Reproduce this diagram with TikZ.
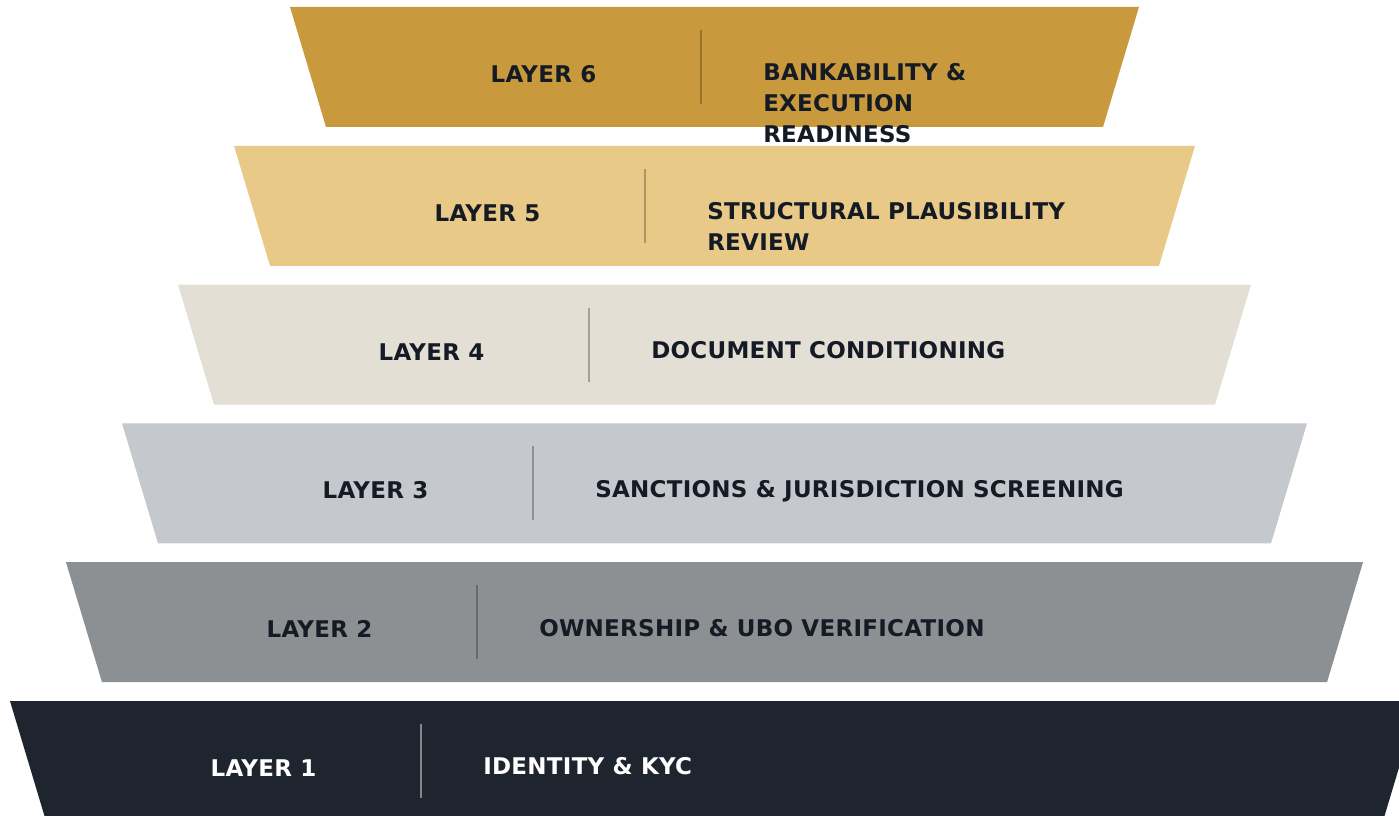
\documentclass[tikz,border=0pt]{standalone}
\usepackage{fontspec}
\setmainfont{DejaVu Sans}[LetterSpace=1.2]
\definecolor{cSix}{HTML}{C9993D}
\definecolor{cFive}{HTML}{E8C987}
\definecolor{cFour}{HTML}{E3DFD4}
\definecolor{cThree}{HTML}{C5C9CD}
\definecolor{cTwo}{HTML}{8C9093}
\definecolor{cOne}{HTML}{1E252F}
\definecolor{ink}{HTML}{151B24}
\tikzset{
  band/.style={draw=none},
  labeltext/.style={inner sep=0pt, anchor=base, font=\fontsize{17.25}{23.25}\selectfont\bfseries},
  titletext/.style={inner sep=0pt, anchor=base west, font=\fontsize{17.25}{23.25}\selectfont\bfseries},
  divider/.style={line width=1.5pt}
}
\begin{document}
\begin{tikzpicture}[x=0.75pt,y=-0.75pt]
\useasboundingbox (0,0) rectangle (1399,816);
\clip (0,0) rectangle (1399,816);
% k = 0 (layer 6) ... 5 (layer 1)
\foreach \k/\col/\txt/\dcol/\dop/\lbl in {
  0/cSix/ink/black/0.25/6,
  1/cFive/ink/black/0.25/5,
  2/cFour/ink/black/0.28/4,
  3/cThree/ink/black/0.28/3,
  4/cTwo/ink/black/0.25/2,
  5/cOne/white/white/0.45/1}{
  \pgfmathsetmacro{\top}{7+138.8*\k}
  \pgfmathsetmacro{\bot}{\top+120}
  \pgfmathsetmacro{\tl}{290-56*\k}
  \pgfmathsetmacro{\tr}{1139+56*\k}
  \pgfmathsetmacro{\bl}{\tl+36}
  \pgfmathsetmacro{\br}{\tr-36}
  \pgfmathsetmacro{\dx}{701-56*\k}
  \fill[band,\col] (\tl,\top) -- (\tr,\top) -- (\br,\bot) -- (\bl,\bot) -- cycle;
  \coordinate (d\lbl a) at (\dx,\top+23);
  \coordinate (d\lbl b) at (\dx,\top+97);
  \draw[divider,\dcol,opacity=\dop] (d\lbl a) -- (d\lbl b);
  \node[labeltext,text=\txt] (lab\lbl) at (\dx-157.5,\top+75.5) {LAYER \lbl};
}
% titles
\node[titletext,text=ink] (t6a) at (763,7+73.8) {BANKABILITY \&};
\node[titletext,text=ink] (t6b) at (763,7+73.8+31) {EXECUTION};
\node[titletext,text=ink] (t6c) at (763,7+73.8+62) {READINESS};
\node[titletext,text=ink] (t5a) at (707,145.8+73.8) {STRUCTURAL PLAUSIBILITY};
\node[titletext,text=ink] (t5b) at (707,145.8+73.8+31) {REVIEW};
\node[titletext,text=ink] (t4) at (651,284.6+73.8) {DOCUMENT CONDITIONING};
\node[titletext,text=ink] (t3) at (595,423.4+73.8) {SANCTIONS \& JURISDICTION SCREENING};
\node[titletext,text=ink] (t2) at (539,562.2+73.8) {OWNERSHIP \& UBO VERIFICATION};
\node[titletext,text=white] (t1) at (483,701+73.8) {IDENTITY \& KYC};
\end{tikzpicture}
\end{document}
